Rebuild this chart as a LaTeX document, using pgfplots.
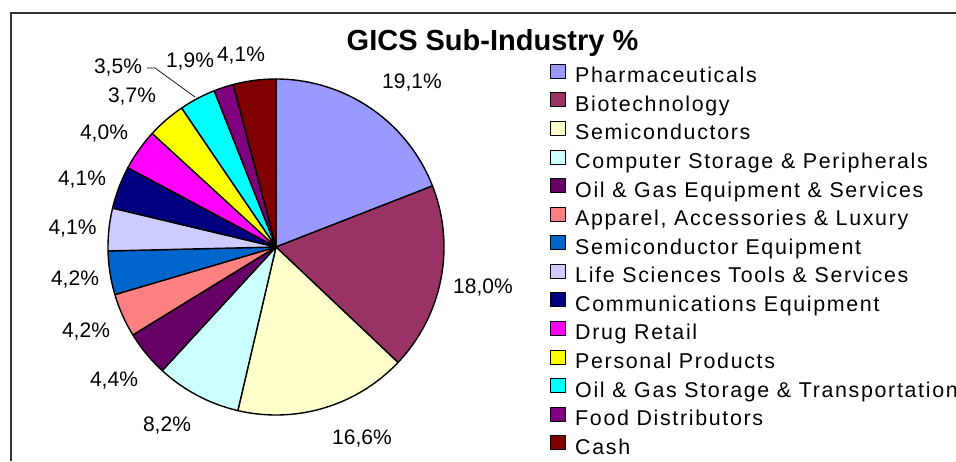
\documentclass[border=0pt]{standalone}
\usepackage{pgfplots}
\pgfplotsset{compat=1.18}
\usepackage{fontspec}
\setmainfont{Liberation Sans}
\newfontfamily\legfont[LetterSpace=7.8]{Liberation Sans}

\definecolor{c1}{HTML}{9999FF}
\definecolor{c2}{HTML}{993366}
\definecolor{c3}{HTML}{FFFFCC}
\definecolor{c4}{HTML}{CCFFFF}
\definecolor{c5}{HTML}{660066}
\definecolor{c6}{HTML}{FF8080}
\definecolor{c7}{HTML}{0066CC}
\definecolor{c8}{HTML}{CCCCFF}
\definecolor{c9}{HTML}{000080}
\definecolor{c10}{HTML}{FF00FF}
\definecolor{c11}{HTML}{FFFF00}
\definecolor{c12}{HTML}{00FFFF}
\definecolor{c13}{HTML}{800080}
\definecolor{c14}{HTML}{800000}

\def\cumsum{0}
\def\total{100.1}
\newcommand\slice[3]{%
  \pgfmathsetmacro\aA{90-\cumsum/\total*360}%
  \pgfmathsetmacro\newcum{\cumsum+#1}%
  \xdef\cumsum{\newcum}%
  \pgfmathsetmacro\aB{90-\cumsum/\total*360}%
  \edef\temp{\noexpand\addplot[fill=#2, draw=black, line width=1.4pt, line join=round,
     domain=\aB:\aA, samples=60, variable=\noexpand\t]
     ({276+168*cos(\noexpand\t)},{214+168*sin(\noexpand\t)}) -- (axis cs:276,214) -- cycle;}%
  \temp
  \addlegendentry{#3}%
}

\begin{document}
\begin{tikzpicture}
\begin{axis}[
  anchor=origin, at={(0pt,0pt)},
  x=1pt, y=1pt, scale only axis,
  xmin=0, xmax=956, ymin=0, ymax=461,
  hide axis, clip=false,
  legend image code/.code={%
    \draw[#1, line width=1pt] (0pt,-1.3pt) rectangle (14.5pt,12.7pt);
    \path (24pt,0pt);},
  legend style={draw=none, fill=none, inner sep=0pt, outer sep=0pt,
    at={(axis cs:550,398.3)}, anchor=north west,
    row sep=0pt, column sep=0pt,
    font=\legfont\fontsize{21.4}{24}\selectfont,
    nodes={inner sep=0pt, text height=20pt, text depth=8.58pt}},
  legend cell align=left,
]
\slice{19.1}{c1}{Pharmaceuticals}
\slice{18.0}{c2}{Biotechnology}
\slice{16.6}{c3}{Semiconductors}
\slice{8.2}{c4}{Computer Storage \& Peripherals}
\slice{4.4}{c5}{Oil \& Gas Equipment \& Services}
\slice{4.2}{c6}{Apparel, Accessories \& Luxury}
\slice{4.2}{c7}{Semiconductor Equipment}
\slice{4.1}{c8}{Life Sciences Tools \& Services}
\slice{4.1}{c9}{Communications Equipment}
\slice{4.0}{c10}{Drug Retail}
\slice{3.7}{c11}{Personal Products}
\slice{3.5}{c12}{Oil \& Gas Storage \& Transportation}
\slice{1.9}{c13}{Food Distributors}
\slice{4.1}{c14}{Cash}

% frame
\draw[line width=2pt, color=black!80] (axis cs:11,0) -- (axis cs:11,448) -- (axis cs:956,448);
% title
\node[font=\bfseries\fontsize{29}{34}\selectfont, anchor=base] at (axis cs:492.5,410.3) {GICS Sub-Industry \%};
% labels
\begin{scope}[every node/.style={font=\fontsize{21}{24}\selectfont, anchor=base, inner sep=0pt}]
\node at (axis cs:412,372) {19,1\%};
\node at (axis cs:483,167.7) {18,0\%};
\node at (axis cs:362,16.7) {16,6\%};
\node at (axis cs:167,29.3) {8,2\%};
\node at (axis cs:114,75) {4,4\%};
\node at (axis cs:86,123.3) {4,2\%};
\node at (axis cs:75,175.7) {4,2\%};
\node at (axis cs:72.5,226) {4,1\%};
\node at (axis cs:82,275) {4,1\%};
\node at (axis cs:104,321.7) {4,0\%};
\node at (axis cs:132,358) {3,7\%};
\node at (axis cs:118,387) {3,5\%};
\node at (axis cs:190,393) {1,9\%};
\node at (axis cs:241,399.3) {4,1\%};
\end{scope}
\draw[line width=0.7pt] (axis cs:147,393) -- (axis cs:155,393) -- (axis cs:195,364);
\end{axis}
\pgfresetboundingbox
\path (0pt,0pt) rectangle (956pt,461pt);
\end{tikzpicture}
\end{document}
